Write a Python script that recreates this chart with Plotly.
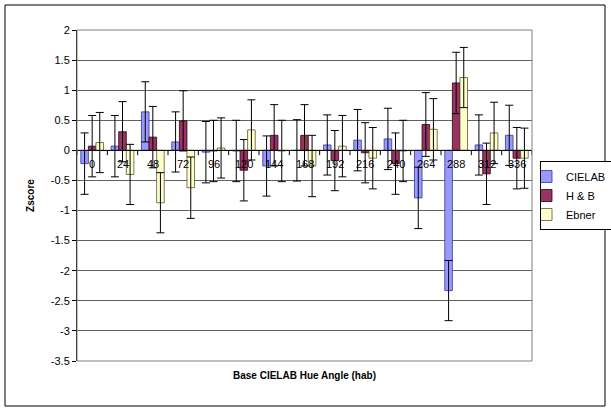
import plotly.graph_objects as go

categories = ["0", "24", "48", "72", "96", "120", "144", "168", "192", "216", "240", "264", "288", "312", "336"]
cielab = [-0.22, 0.07, 0.64, 0.14, -0.03, -0.01, -0.26, 0.0, 0.09, 0.17, 0.19, -0.79, -2.33, 0.09, 0.25]
hb = [0.07, 0.31, 0.22, 0.49, -0.01, -0.33, 0.25, 0.25, -0.17, -0.04, -0.22, 0.43, 1.12, -0.39, -0.13]
ebner = [0.13, -0.40, -0.87, -0.62, 0.04, 0.34, -0.01, -0.26, 0.07, -0.13, -0.01, 0.35, 1.21, 0.29, -0.13]
cielab_err = [0.51, 0.51, 0.50, 0.50, 0.51, 0.51, 0.50, 0.51, 0.50, 0.51, 0.51, 0.51, 0.50, 0.50, 0.50]
hb_err = [0.51, 0.50, 0.51, 0.50, 0.51, 0.51, 0.51, 0.51, 0.50, 0.50, 0.51, 0.53, 0.51, 0.51, 0.51]
ebner_err = [0.50, 0.50, 0.50, 0.51, 0.50, 0.50, 0.51, 0.51, 0.51, 0.51, 0.51, 0.51, 0.50, 0.51, 0.50]

yticks = [2, 1.5, 1, 0.5, 0, -0.5, -1, -1.5, -2, -2.5, -3, -3.5]

W, H = 611, 412
L, R, T, B = 77, 532, 30, 361

fig = go.Figure()
series = [
    ("CIELAB", cielab, cielab_err, "#9999FF", "#333399"),
    ("H & B", hb, hb_err, "#993366", "#330000"),
    ("Ebner", ebner, ebner_err, "#FFFFCC", "#555533"),
]
for name, vals, err, fill, edge in series:
    fig.add_trace(go.Bar(
        name=name, x=categories, y=vals,
        marker=dict(color=fill, line=dict(color=edge, width=0.8)),
        error_y=dict(type="data", array=err, visible=True, color="#000000", thickness=1, width=4),
    ))

# category labels placed next to the zero line (x given as category index)
annotations = []
for i, c in enumerate(categories):
    annotations.append(dict(x=i, y=0, xref="x", yref="y", text=c, showarrow=False,
                            yshift=-14, font=dict(family="Liberation Sans, Arial", size=11, color="#000")))
annotations.append(dict(x=0.5, y=-0.066, xref="paper", yref="paper", text="<b>Base CIELAB Hue Angle (hab)</b>",
                        showarrow=False, font=dict(family="Liberation Sans, Arial", size=10, color="#000")))

shapes = []
# zero line
shapes.append(dict(type="line", xref="paper", yref="y", x0=0, x1=1, y0=0, y1=0, line=dict(color="#000", width=1)))
# tick marks at category boundaries
for i in range(len(categories) + 1):
    shapes.append(dict(type="line", xref="x", yref="y", x0=i - 0.5, x1=i - 0.5, y0=0, y1=-0.08,
                       line=dict(color="#000", width=1)))
# outer chart border
pw, ph = R - L, B - T
shapes.append(dict(type="rect", xref="paper", yref="paper",
                   x0=(5 - L) / pw, x1=(605 - L) / pw, y0=(B - 406) / ph, y1=(B - 5) / ph,
                   line=dict(color="#000", width=1), layer="below"))
# plot area border
shapes.append(dict(type="rect", xref="paper", yref="paper", x0=0, x1=1, y0=0, y1=1,
                   line=dict(color="#808080", width=1)))

fig.update_layout(
    width=W, height=H,
    margin=dict(l=L, r=W - R, t=T, b=H - B, autoexpand=False),
    paper_bgcolor="white", plot_bgcolor="white",
    barmode="group", bargap=0.25, bargroupgap=0,
    font=dict(family="Liberation Sans, Arial", size=11, color="#000"),
    showlegend=True,
    legend=dict(x=(540 - L) / pw, y=(B - 161) / ph, xanchor="left", yanchor="top",
                bordercolor="#000", borderwidth=1, bgcolor="white",
                font=dict(size=11), tracegroupgap=0, itemwidth=30, indentation=-15),
    xaxis=dict(type="category", range=[-0.5, len(categories) - 0.5], showticklabels=False,
               showgrid=False, zeroline=False, showline=False, ticks=""),
    yaxis=dict(range=[-3.5, 2], tickvals=yticks, ticktext=[str(v) for v in yticks],
               showgrid=True, gridcolor="#606060", gridwidth=1, zeroline=False,
               showline=True, linecolor="#000", linewidth=1, ticks="outside", ticklen=4,
               tickcolor="#000", tickfont=dict(size=11),
               title=dict(text="<b>Zscore</b>", font=dict(size=10), standoff=14)),
    annotations=annotations, shapes=shapes,
)

fig.write_html("out.html", config={"displayModeBar": False},
               post_script="document.body.style.margin='0';document.body.style.overflow='hidden';")
